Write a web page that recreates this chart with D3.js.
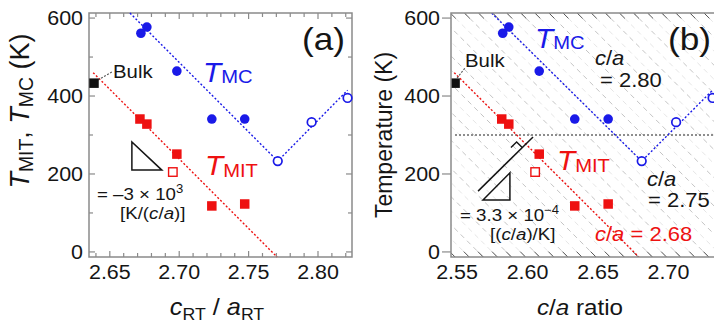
<!DOCTYPE html>
<html><head><meta charset="utf-8">
<script src="https://cdn.jsdelivr.net/npm/d3@7"></script>
<style>html,body{margin:0;padding:0;background:#fff;}svg{display:block;}</style>
</head><body>
<script>
// ---------- data ----------
const yDomain = [-13, 613];
const yTicksMajor = [0, 200, 400, 600];
const yTicksMinor = [100, 300, 500];
const xTicksA = [2.65, 2.70, 2.75, 2.80];
const xTicksB = [2.55, 2.60, 2.65, 2.70];
const xMinorA = [2.64, 2.66, 2.67, 2.68, 2.69, 2.71, 2.72, 2.73, 2.74, 2.76, 2.77, 2.78, 2.79, 2.81, 2.82];

// panel (a): x = c_RT / a_RT
const tmcFilledAx = [2.6724, 2.6767, 2.6983, 2.7235, 2.7472];
const tmcFilledT  = [561, 577, 464, 341, 341];
const tmcOpenAx   = [2.771, 2.7954, 2.8213];
const tmcOpenT    = [233, 333, 395];
const tmitFilledAx = [2.6717, 2.6767, 2.6983, 2.7235, 2.7472];
const tmitFilledT  = [341, 328, 251, 118, 123];
const tmitOpenAx   = [2.6954];
const tmitOpenT    = [205];
const bulkAx = [2.6386];
const bulkT  = [433];
const tmcLineAx = [2.6645, 2.771, 2.8213];
const tmcLineT  = [613, 233, 415];
const tmitLineAx = [2.638, 2.7705];
const tmitLineT  = [460, -13];

// panel (b): x = c/a ratio
const tmcFilledBx  = [2.5824, 2.5867, 2.6083, 2.6335, 2.6572];
const tmcOpenBx    = [2.681, 2.7054, 2.7313];
const tmitFilledBx = [2.5817, 2.5867, 2.6083, 2.6335, 2.6572];
const tmitOpenBx   = [2.6054];
const bulkBx = [2.5486];
const tmcLineBx  = [2.5745, 2.681, 2.7313];
const tmitLineBx = [2.548, 2.679];
const isoSlope = 2.77e-4; // (c/a) per K
const isoIntercepts = [2.545,2.555,2.565,2.575,2.585,2.595,2.605,2.615,2.625,2.635,2.645,2.655,2.665,2.675,2.685,2.695,2.705,2.715,2.725,2.735,2.745,2.755,2.765,2.775,2.785,2.795,2.805,2.815,2.825,2.835,2.845,2.855,2.865,2.875,2.885,2.895,2.905];
const rtT = 300;

// annotation geometry (data coords)
const triA = [[2.6659, 282], [2.6659, 210], [2.6875, 210]];
const triB = [[2.5684, 133], [2.5875, 133], [2.5875, 203]];
const perpB = [[2.5649, 156], [2.6039, 295]];
const bulkLinkA = [[2.6415, 441], [2.6516, 462]];
const bulkLinkB = [[2.550, 446], [2.5556, 472]];

// ---------- drawing ----------
const W = 714, H = 324;
const BLUE = "#1a1ae8", RED = "#ee1111", FRAME = "#8a8a8a", INK = "#151515";
const FONT = "'Liberation Sans', Arial, Helvetica, sans-serif";
const svg = d3.select("body").append("svg").attr("width", W).attr("height", H);

const y = d3.scaleLinear().domain(yDomain).range([257, 13]);
const xA = d3.scaleLinear().domain([2.635, 2.8245]).range([89, 352]);
const xB = d3.scaleLinear().domain([2.5457, 2.733]).range([451, 715]);

function rich(parent, x, y0, parts, o) {
  o = Object.assign({size: 19, fill: INK, anchor: "start", sx: 1.1, rot: false, subRatio: 0.7, subDy: 3, supDy: -8}, o || {});
  const t = parent.append("text")
    .attr("transform", `translate(${x},${y0})` + (o.rot ? " rotate(-90)" : "") + ` scale(${o.sx},1)`)
    .attr("font-family", FONT).attr("fill", o.fill).attr("text-anchor", o.anchor)
    .attr("font-size", o.size);
  let cur = 0;
  parts.forEach(p => {
    if (typeof p === "string") p = {t: p};
    const target = p.sub ? o.subDy : p.sup ? o.supDy : 0;
    const ts = t.append("tspan").text(p.t).attr("dy", target - cur);
    cur = target;
    ts.attr("font-size", (p.sub || p.sup) ? o.size * (p.ratio || o.subRatio) : (p.size || o.size));
    if (p.it) ts.attr("font-style", "italic");
  });
  return t;
}

function markers(g, xs, xArr, tArr, shape, color, filled) {
  const pts = xArr.map((v, i) => [xs(v), y(tArr[i])]);
  if (shape === "circle") {
    g.selectAll(null).data(pts).enter().append("circle")
      .attr("cx", d => d[0]).attr("cy", d => d[1]).attr("r", filled ? 4.8 : 4.3)
      .attr("fill", filled ? color : "#fff").attr("stroke", color).attr("stroke-width", filled ? 0 : 1.7);
  } else {
    const s = filled ? 9.5 : 8.5;
    g.selectAll(null).data(pts).enter().append("rect")
      .attr("x", d => d[0] - s / 2).attr("y", d => d[1] - s / 2).attr("width", s).attr("height", s)
      .attr("fill", filled ? color : "#fff").attr("stroke", color).attr("stroke-width", filled ? 0 : 1.4);
  }
}

function dotted(g, xs, xArr, tArr, color, dash, w) {
  const line = d3.line().x(d => xs(d[0])).y(d => y(d[1]));
  g.append("path").attr("d", line(xArr.map((v, i) => [v, tArr[i]])))
    .attr("fill", "none").attr("stroke", color).attr("stroke-width", w || 1.4).attr("stroke-dasharray", dash || "2,2");
}

function poly(g, xs, pts, closed) {
  const line = d3.line().x(d => xs(d[0])).y(d => y(d[1]));
  g.append("path").attr("d", line(pts) + (closed ? "Z" : "")).attr("fill", "none")
    .attr("stroke", INK).attr("stroke-width", 1.5);
}

// ======== Panel (a) ========
const gA = svg.append("g");
const [ax0, ax1] = xA.range(), [ay0, ay1] = [y(yDomain[0]), y(yDomain[1])];
const tickA = gA.append("g").attr("stroke", FRAME).attr("stroke-width", 1.2);
xTicksA.concat(xMinorA).forEach(v => {
  const L = xTicksA.includes(v) ? 6 : 4;
  tickA.append("line").attr("x1", xA(v)).attr("x2", xA(v)).attr("y1", ay0).attr("y2", ay0 - L);
  tickA.append("line").attr("x1", xA(v)).attr("x2", xA(v)).attr("y1", ay1).attr("y2", ay1 + L);
});
yTicksMajor.concat(yTicksMinor).forEach(v => {
  const L = yTicksMajor.includes(v) ? 6 : 4;
  tickA.append("line").attr("x1", ax0).attr("x2", ax0 + L).attr("y1", y(v)).attr("y2", y(v));
  tickA.append("line").attr("x1", ax1).attr("x2", ax1 - L).attr("y1", y(v)).attr("y2", y(v));
});
gA.append("rect").attr("x", ax0).attr("y", ay1).attr("width", ax1 - ax0).attr("height", ay0 - ay1)
  .attr("fill", "none").attr("stroke", FRAME).attr("stroke-width", 1.5);
xTicksA.forEach(v => rich(gA, xA(v), 279, [v.toFixed(2)], {anchor: "middle", size: 19.5}));
yTicksMajor.forEach(v => rich(gA, 83, y(v) + 7, [String(v)], {anchor: "end", size: 19.5}));

dotted(gA, xA, tmcLineAx, tmcLineT, BLUE);
dotted(gA, xA, tmitLineAx, tmitLineT, RED);
dotted(gA, xA, bulkLinkA.map(d => d[0]), bulkLinkA.map(d => d[1]), "#555", "2,1.5", 1.1);
markers(gA, xA, tmcFilledAx, tmcFilledT, "circle", BLUE, true);
markers(gA, xA, tmcOpenAx, tmcOpenT, "circle", BLUE, false);
markers(gA, xA, tmitFilledAx, tmitFilledT, "square", RED, true);
markers(gA, xA, tmitOpenAx, tmitOpenT, "square", RED, false);
markers(gA, xA, bulkAx, bulkT, "square", "#111", true);
poly(gA, xA, triA, true);

rich(gA, 113, 78, ["Bulk"], {size: 18.5});
rich(gA, 302, 50, ["(a)"], {size: 32});
rich(gA, 203, 82, [{t: "T", it: true}, {t: "MC", sub: true}], {size: 27, fill: BLUE, subRatio: 0.68, subDy: 1});
rich(gA, 205, 175, [{t: "T", it: true}, {t: "MIT", sub: true}], {size: 27, fill: RED, subRatio: 0.68, subDy: 2});
rich(gA, 97, 200, ["= \u20133 \u00d7 10", {t: "3", sup: true}], {size: 17, supDy: -7});
rich(gA, 120, 219, ["[K/(", {t: "c", it: true}, "/", {t: "a", it: true}, ")]"], {size: 17});
rich(gA, 217, 315, [{t: "c", it: true}, {t: "RT", sub: true}, " / ", {t: "a", it: true}, {t: "RT", sub: true}],
  {size: 23, anchor: "middle", subDy: 5});
rich(gA, 29, 111, [{t: "T", it: true}, {t: "MIT", sub: true}, ",  ", {t: "T", it: true}, {t: "MC", sub: true}, " (K)"],
  {size: 27, anchor: "middle", rot: true, sx: 1, subRatio: 0.72, subDy: 4});

// ======== Panel (b) ========
const gB = svg.append("g");
const [bx0, bx1] = xB.range();
gB.append("clipPath").attr("id", "clipB").append("rect")
  .attr("x", bx0).attr("y", ay1).attr("width", bx1 - bx0).attr("height", ay0 - ay1);
const inB = gB.append("g").attr("clip-path", "url(#clipB)");
const isoLine = d3.line().x(d => xB(d[0])).y(d => y(d[1]));
isoIntercepts.forEach((v, i) => {
  inB.append("path").attr("d", isoLine([[v - isoSlope * yDomain[0], yDomain[0]], [v - isoSlope * yDomain[1], yDomain[1]]]))
    .attr("stroke", i % 2 ? "#e2e2e2" : "#bdbdbd").attr("stroke-width", 0.9).attr("stroke-dasharray", "5,4").attr("fill", "none");
  inB.append("path").attr("d", isoLine([[v - isoSlope * yDomain[0], yDomain[0]], [v - isoSlope * (yDomain[0] + 14), yDomain[0] + 14]]))
    .attr("stroke", "#555").attr("stroke-width", 1).attr("fill", "none");
  inB.append("path").attr("d", isoLine([[v - isoSlope * yDomain[1], yDomain[1]], [v - isoSlope * (yDomain[1] - 14), yDomain[1] - 14]]))
    .attr("stroke", "#555").attr("stroke-width", 1).attr("fill", "none");
});
inB.append("line").attr("x1", bx0 + 4).attr("x2", bx1).attr("y1", y(rtT)).attr("y2", y(rtT))
  .attr("stroke", "#6a6a6a").attr("stroke-width", 1.3).attr("stroke-dasharray", "2,2");

dotted(inB, xB, tmcLineBx, tmcLineT, BLUE);
dotted(inB, xB, tmitLineBx, tmitLineT, RED);
dotted(inB, xB, bulkLinkB.map(d => d[0]), bulkLinkB.map(d => d[1]), "#555", "2,1.5", 1.1);
markers(inB, xB, tmcFilledBx, tmcFilledT, "circle", BLUE, true);
markers(inB, xB, tmcOpenBx, tmcOpenT, "circle", BLUE, false);
markers(inB, xB, tmitFilledBx, tmitFilledT, "square", RED, true);
markers(inB, xB, tmitOpenBx, tmitOpenT, "square", RED, false);
markers(inB, xB, bulkBx, bulkT, "square", "#111", true);
poly(inB, xB, triB, true);
poly(inB, xB, perpB, false);
(function () {
  const p0 = [xB(perpB[0][0]), y(perpB[0][1])], p1 = [xB(perpB[1][0]), y(perpB[1][1])];
  const len = Math.hypot(p1[0] - p0[0], p1[1] - p0[1]);
  const v = [(p1[0] - p0[0]) / len, (p1[1] - p0[1]) / len];
  const u = [v[1], -v[0]];
  const P = [p0[0] + v[0] * len * 0.7, p0[1] + v[1] * len * 0.7], s = 8;
  const a = [P[0] + u[0] * s, P[1] + u[1] * s];
  const b = [a[0] + v[0] * s, a[1] + v[1] * s];
  const c = [P[0] + v[0] * s, P[1] + v[1] * s];
  inB.append("path").attr("d", `M${a}L${b}L${c}`).attr("fill", "none").attr("stroke", INK).attr("stroke-width", 1.4);
})();

const tickB = gB.append("g").attr("stroke", FRAME).attr("stroke-width", 1.2);
yTicksMajor.forEach(v => tickB.append("line").attr("x1", bx0 - 9).attr("x2", bx0).attr("y1", y(v)).attr("y2", y(v)));
gB.append("rect").attr("x", bx0).attr("y", ay1).attr("width", bx1 - bx0).attr("height", ay0 - ay1)
  .attr("fill", "none").attr("stroke", FRAME).attr("stroke-width", 1.5);
xTicksB.forEach(v => rich(gB, xB(v), 279, [v.toFixed(2)], {anchor: "middle", size: 19.5}));
yTicksMajor.forEach(v => rich(gB, 440, y(v) + 7, [String(v)], {anchor: "end", size: 19.5}));

rich(gB, 465, 67, ["Bulk"], {size: 18.5});
rich(gB, 668, 50, ["(b)"], {size: 32});
rich(gB, 535, 48, [{t: "T", it: true}, {t: "MC", sub: true}], {size: 27, fill: BLUE, subRatio: 0.68, subDy: 1});
rich(gB, 557, 170, [{t: "T", it: true}, {t: "MIT", sub: true}], {size: 27, fill: RED, subRatio: 0.68, subDy: 2});
rich(gB, 595, 65, [{t: "c", it: true}, "/", {t: "a", it: true}], {size: 20});
rich(gB, 600, 87, ["= 2.80"], {size: 20});
rich(gB, 647, 186, [{t: "c", it: true}, "/", {t: "a", it: true}], {size: 20});
rich(gB, 648, 207, ["= 2.75"], {size: 20});
rich(gB, 595, 241, [{t: "c", it: true}, "/", {t: "a", it: true}, " = 2.68"], {size: 20, fill: RED});
rich(gB, 460, 221, ["= 3.3 \u00d7 10", {t: "\u22124", sup: true}], {size: 17, supDy: -7});
rich(gB, 490, 240, ["[(", {t: "c", it: true}, "/", {t: "a", it: true}, ")/K]"], {size: 17});
rich(gB, 580, 315, [{t: "c", it: true}, "/", {t: "a", it: true}, " ratio"], {size: 22, anchor: "middle"});
rich(gB, 392, 135, ["Temperature (K)"], {size: 23, anchor: "middle", rot: true, sx: 1});
</script>
</body></html>
